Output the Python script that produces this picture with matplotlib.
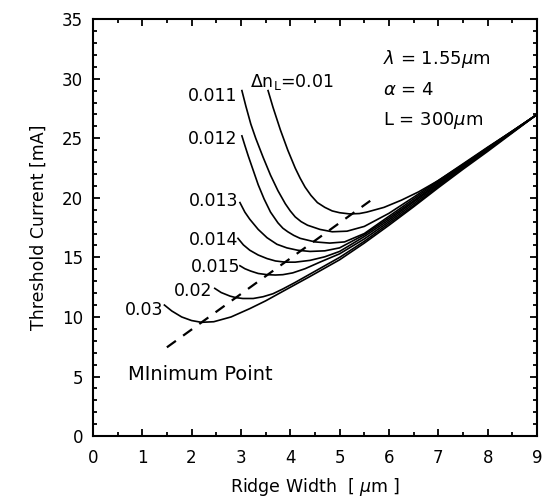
import matplotlib
matplotlib.use("Agg")
import matplotlib.pyplot as plt
from matplotlib.ticker import MultipleLocator

# threshold current vs ridge width, one curve per delta n_L
dn_labels = ["0.011", "0.012", "0.013", "0.014", "0.015", "0.02", "0.03"]

x_001 = [3.55, 3.65, 3.8, 3.95, 4.1, 4.2, 4.3, 4.42, 4.55, 4.7, 4.85, 5.0, 5.2, 5.4, 5.55, 5.9, 6.25, 6.6, 7.0, 7.5, 8.0, 8.5, 9.0]
y_001 = [29.0, 27.6, 25.7, 24.0, 22.5, 21.65, 20.9, 20.2, 19.6, 19.2, 18.9, 18.75, 18.65, 18.68, 18.8, 19.2, 19.8, 20.5, 21.45, 22.8, 24.2, 25.6, 27.0]

x_0011 = [3.02, 3.1, 3.2, 3.3, 3.45, 3.6, 3.75, 3.9, 4.0, 4.1, 4.22, 4.35, 4.6, 4.85, 5.15, 5.5, 6.0, 6.5, 7.0, 7.5, 8.0, 8.5, 9.0]
y_0011 = [29.0, 27.7, 26.2, 25.0, 23.4, 21.9, 20.6, 19.5, 18.9, 18.4, 18.0, 17.7, 17.35, 17.15, 17.2, 17.6, 18.7, 20.05, 21.45, 22.85, 24.25, 25.6, 27.0]

x_0012 = [3.02, 3.08, 3.15, 3.25, 3.35, 3.47, 3.6, 3.75, 3.85, 3.95, 4.07, 4.2, 4.5, 4.8, 5.1, 5.5, 6.0, 6.5, 7.0, 7.5, 8.0, 8.5, 9.0]
y_0012 = [25.2, 24.4, 23.5, 22.3, 21.1, 19.9, 18.8, 17.9, 17.45, 17.15, 16.85, 16.6, 16.3, 16.2, 16.3, 17.0, 18.45, 19.9, 21.35, 22.75, 24.2, 25.6, 27.0]

x_0013 = [2.98, 3.08, 3.18, 3.35, 3.53, 3.73, 3.93, 4.15, 4.4, 4.7, 5.0, 5.5, 6.0, 6.5, 7.0, 7.5, 8.0, 8.5, 9.0]
y_0013 = [19.6, 18.8, 18.2, 17.35, 16.65, 16.1, 15.8, 15.6, 15.5, 15.55, 15.8, 16.9, 18.3, 19.75, 21.25, 22.7, 24.15, 25.55, 27.0]

x_0014 = [2.94, 3.05, 3.18, 3.35, 3.53, 3.7, 3.9, 4.1, 4.4, 4.7, 5.0, 5.5, 6.0, 6.5, 7.0, 7.5, 8.0, 8.5, 9.0]
y_0014 = [16.6, 16.05, 15.6, 15.2, 14.9, 14.7, 14.6, 14.6, 14.75, 15.05, 15.5, 16.75, 18.15, 19.65, 21.15, 22.65, 24.1, 25.55, 27.0]

x_0015 = [2.98, 3.08, 3.2, 3.35, 3.53, 3.7, 3.85, 4.05, 4.3, 4.6, 5.0, 5.5, 6.0, 6.5, 7.0, 7.5, 8.0, 8.5, 9.0]
y_0015 = [14.3, 14.05, 13.85, 13.65, 13.55, 13.52, 13.55, 13.7, 14.05, 14.6, 15.3, 16.55, 18.0, 19.5, 21.05, 22.6, 24.05, 25.5, 27.0]

x_002 = [2.47, 2.6, 2.78, 2.9, 3.04, 3.25, 3.45, 3.65, 3.85, 4.1, 4.4, 5.0, 5.5, 6.0, 6.5, 7.0, 7.5, 8.0, 8.5, 9.0]
y_002 = [12.4, 12.05, 11.75, 11.62, 11.55, 11.55, 11.7, 11.95, 12.35, 12.9, 13.6, 15.0, 16.35, 17.85, 19.35, 20.95, 22.5, 24.0, 25.5, 27.0]

x_003 = [1.45, 1.6, 1.8, 2.0, 2.2, 2.45, 2.8, 3.18, 3.5, 3.85, 4.4, 5.0, 5.5, 6.0, 6.5, 7.0, 7.5, 8.0, 8.5, 9.0]
y_003 = [11.0, 10.5, 10.0, 9.7, 9.55, 9.6, 10.0, 10.7, 11.35, 12.15, 13.4, 14.8, 16.2, 17.7, 19.25, 20.85, 22.4, 23.9, 25.45, 27.0]

# line through the minimum points
x_min = [1.5, 5.62]
y_min = [7.45, 19.75]

curves = [(x_001, y_001), (x_0011, y_0011), (x_0012, y_0012), (x_0013, y_0013),
          (x_0014, y_0014), (x_0015, y_0015), (x_002, y_002), (x_003, y_003)]

# where each label sits (right edge, baseline)
label_x = [2.92, 2.92, 2.94, 2.94, 2.98, 2.43, 1.42]
label_y = [28.15, 24.55, 19.35, 16.05, 13.75, 11.8, 10.2]

fig = plt.figure(figsize=(5.43, 5.03), dpi=100)
ax = fig.add_axes([0.171, 0.133, 0.818, 0.829])

for xs, ys in curves:
    ax.plot(xs, ys, color="black", lw=1.2)

ax.plot(x_min, y_min, color="black", lw=1.6, dashes=(5, 4))

for lab, lx, ly in zip(dn_labels, label_x, label_y):
    ax.text(lx, ly, lab, ha="right", va="baseline", fontsize=12.5)

ax.text(3.18, 29.3, r"$\Delta$n$_{\rm L}$=0.01", ha="left", va="baseline", fontsize=12.5)

ax.text(5.88, 31.2, r"$\lambda$ = 1.55$\mu$m", ha="left", va="baseline", fontsize=13)
ax.text(5.88, 28.6, r"$\alpha$ = 4", ha="left", va="baseline", fontsize=13)
ax.text(5.88, 26.1, r"L = 300$\mu$m", ha="left", va="baseline", fontsize=13)

ax.text(0.71, 4.7, "MInimum Point", ha="left", va="baseline", fontsize=14)

ax.set_xlim(0, 9)
ax.set_ylim(0, 35)
ax.xaxis.set_major_locator(MultipleLocator(1))
ax.xaxis.set_minor_locator(MultipleLocator(0.5))
ax.yaxis.set_major_locator(MultipleLocator(5))
ax.yaxis.set_minor_locator(MultipleLocator(1))
ax.tick_params(which="both", direction="in", top=True, right=True, width=1.3)
ax.tick_params(which="major", length=5, labelsize=12)
ax.tick_params(which="minor", length=3)
ax.tick_params(axis="x", pad=9)
ax.tick_params(axis="y", pad=7)
for sp in ax.spines.values():
    sp.set_linewidth(1.5)

ax.set_xlabel(r"Ridge Width  [ $\mu$m ]", fontsize=12.5, labelpad=7)
ax.set_ylabel("Threshold Current [mA]", fontsize=12.5, labelpad=10)

fig.savefig("out.png", dpi=100)
